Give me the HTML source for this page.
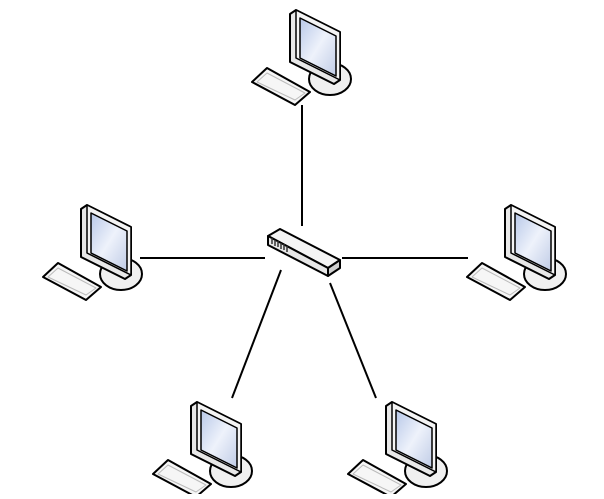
<!DOCTYPE html>
<html><head><style>body{margin:0;background:#fff;width:604px;height:494px;overflow:hidden}</style></head>
<body>
<svg width="604" height="494" viewBox="0 0 604 494" xmlns="http://www.w3.org/2000/svg">
<defs>
<linearGradient id="scr" x1="0" y1="0" x2="1" y2="1"><stop offset="0" stop-color="#b8c8e8"/><stop offset="0.5" stop-color="#eef2fb"/><stop offset="1" stop-color="#c0cce6"/></linearGradient>
<symbol id="pc" overflow="visible">
<g stroke="#000" stroke-width="2" stroke-linejoin="round">
<ellipse cx="78" cy="71" rx="21" ry="16" fill="#f0f0f0"/>
<polygon points="38,6 44,2 88,24 88,72 82,76 38,54" fill="#e8e8e8"/>
<polygon points="44,2 88,24 88,72 44,50" fill="#f4f4f4" stroke-width="1.5"/>
<polygon points="48,10 84,28 84,68 48,50" fill="url(#scr)" stroke-width="1.5"/>
<polygon points="0,74 15,60 58,84 43,97" fill="#f6f6f6"/>
<polygon points="5,74 15,65 53,85 43,92" fill="none" stroke="#bbb" stroke-width="1"/>
</g>
</symbol>
</defs>
<g stroke="#000" stroke-width="2">
<line x1="302" y1="105" x2="302" y2="226"/>
<line x1="140" y1="258" x2="265" y2="258"/>
<line x1="342" y1="258" x2="468" y2="258"/>
<line x1="281" y1="270" x2="232" y2="398"/>
<line x1="330" y1="283" x2="376" y2="398"/>
</g>
<use href="#pc" x="252" y="8"/>
<use href="#pc" x="43" y="203"/>
<use href="#pc" x="467" y="203"/>
<use href="#pc" x="153" y="400"/>
<use href="#pc" x="348" y="400"/>
<g stroke="#000" stroke-width="2" stroke-linejoin="round">
<polygon points="268,236 280,229 340,260 328,268" fill="#f4f4f4"/>
<polygon points="268,236 328,268 328,276 268,245" fill="#e6e6e6"/>
<polygon points="328,268 340,260 340,268 328,276" fill="#cfcfcf"/>
</g>
<g stroke="#333" stroke-width="1.5">
<line x1="272" y1="238" x2="272" y2="244"/><line x1="275" y1="240" x2="275" y2="246"/>
<line x1="278" y1="241" x2="278" y2="247"/><line x1="281" y1="243" x2="281" y2="249"/>
<line x1="284" y1="244" x2="284" y2="250"/><line x1="287" y1="246" x2="287" y2="252"/>
</g>
</svg>
</body></html>
